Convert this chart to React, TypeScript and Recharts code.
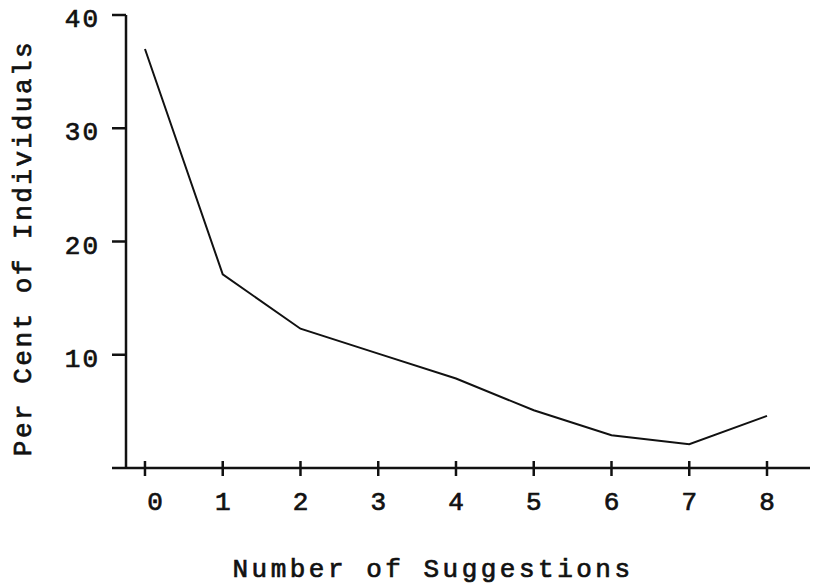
import React from 'react';
import { LineChart, Line, XAxis, YAxis, Label } from 'recharts';

const suggestions = [0, 1, 2, 3, 4, 5, 6, 7, 8];
const percentIndividuals = [37, 17.1, 12.3, 10.1, 7.9, 5.1, 2.9, 2.1, 4.6];
const yTicks = [0, 10, 20, 30, 40];

const FONT = '"Liberation Mono", "DejaVu Sans Mono", monospace';
const INK = '#111';
// typewriter ink is heavier than the plain mono face
const inkText = { fontFamily: FONT, fontSize: 26, fill: INK, stroke: INK, strokeWidth: 0.7 };

const data = suggestions.map((n, i) => ({ n, pct: percentIndividuals[i] }));

// x ticks cross the axis on both sides, like the typed original
function XTick(props: any) {
  const { x, y, payload, index } = props;
  const dx = index === 0 ? 10 : 0;
  return (
    <g>
      <line x1={x} x2={x} y1={y - 7} y2={y + 8} stroke={INK} strokeWidth={2.5} />
      <text x={x + dx} y={y + 42} textAnchor="middle" {...inkText}>
        {payload.value}
      </text>
    </g>
  );
}

function YTick(props: any) {
  const { x, y, payload } = props;
  if (payload.value === 0) return null;
  return (
    <text x={x} y={y + 12} textAnchor="end" letterSpacing={2} {...inkText}>
      {payload.value}
    </text>
  );
}

export default function App() {
  return (
    <div style={{ position: 'absolute', left: 0, top: 0, width: 833, height: 584, background: '#fff' }}>
      <LineChart width={833} height={584} data={data} margin={{ top: 15, right: 23, left: 0, bottom: 0 }}>
        <XAxis
          dataKey="n"
          type="number"
          domain={[-0.244, 8.553]}
          ticks={suggestions}
          tick={<XTick />}
          tickSize={0}
          tickMargin={0}
          tickLine={false}
          axisLine={{ stroke: INK, strokeWidth: 2.5 }}
          height={116}
        >
          <Label
            content={() => (
              <text x={433} y={577} textAnchor="middle" letterSpacing={3.5} {...inkText}>
                Number of Suggestions
              </text>
            )}
          />
        </XAxis>
        <YAxis
          type="number"
          domain={[0, 40]}
          ticks={yTicks}
          tick={<YTick />}
          tickSize={14}
          tickMargin={12}
          tickLine={{ stroke: INK, strokeWidth: 2.5 }}
          axisLine={{ stroke: INK, strokeWidth: 2.5 }}
          width={126}
        >
          <Label
            content={() => (
              <text
                x={24}
                y={248}
                transform="rotate(-90 24 248)"
                textAnchor="middle"
                dominantBaseline="central"
                letterSpacing={2.5}
                {...inkText}
              >
                Per Cent of Individuals
              </text>
            )}
          />
        </YAxis>
        <Line
          type="linear"
          dataKey="pct"
          stroke={INK}
          strokeWidth={2}
          dot={false}
          activeDot={false}
          isAnimationActive={false}
        />
      </LineChart>
    </div>
  );
}
